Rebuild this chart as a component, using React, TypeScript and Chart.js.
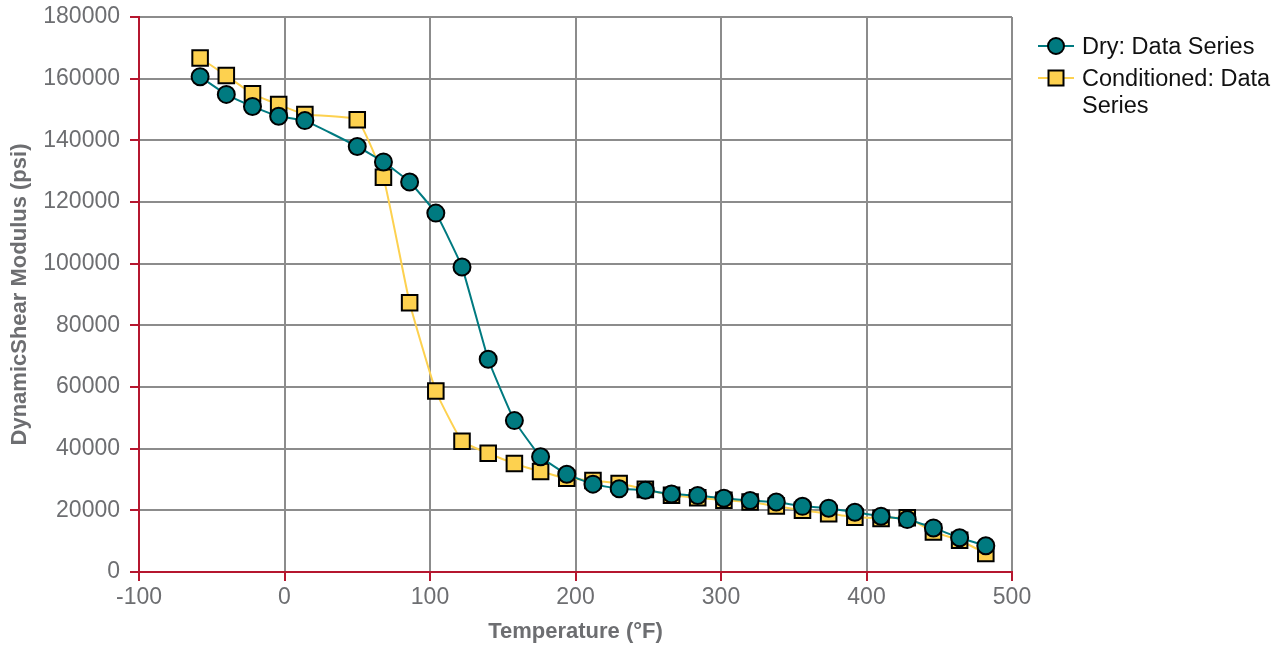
import React, { useEffect, useRef } from "react";
import { Chart, registerables } from "chart.js";

Chart.register(...registerables);

const temperatures = [-58, -40, -22, -4, 14, 50, 68, 86, 104, 122, 140, 158, 176, 194, 212, 230, 248, 266, 284, 302, 320, 338, 356, 374, 392, 410, 428, 446, 464, 482];
const dryValues = [160600, 154900, 151000, 147800, 146400, 138000, 133000, 126500, 116400, 98900, 69000, 49100, 37400, 31700, 28500, 27000, 26500, 25300, 24800, 23900, 23200, 22700, 21300, 20700, 19400, 18100, 17000, 14300, 11100, 8500];
const conditionedValues = [166700, 161000, 155100, 151600, 148400, 146700, 128000, 87300, 58700, 42400, 38500, 35200, 32600, 30400, 29700, 28700, 26800, 24900, 24100, 23300, 22700, 21400, 20000, 18900, 17800, 17400, 17600, 13000, 10300, 6000];
const seriesNames = ["Dry: Data Series", "Conditioned: Data Series"];
const xTitle = "Temperature (°F)";
const yTitle = "DynamicShear Modulus (psi)";

const TEAL = "#007a80";
const YELLOW = "#fdd14f";
const RED = "#b5172f";
const GRID = "#8c8c8c";
const LABEL = "#6d6e71";
const FONT = "'Liberation Sans', Arial, sans-serif";

export default function App() {
  const ref = useRef<HTMLCanvasElement | null>(null);

  useEffect(() => {
    if (!ref.current) return;
    const toPts = (vals: number[]) => temperatures.map((t, i) => ({ x: t, y: vals[i] }));
    const chart = new Chart(ref.current, {
      type: "line",
      data: {
        datasets: [
          {
            label: seriesNames[0],
            data: toPts(dryValues),
            borderColor: TEAL,
            backgroundColor: TEAL,
            borderWidth: 2,
            pointStyle: "circle",
            pointRadius: 8.5,
            pointBorderColor: "#000",
            pointBackgroundColor: TEAL,
            pointBorderWidth: 2,
            tension: 0.12,
          },
          {
            label: seriesNames[1],
            data: toPts(conditionedValues),
            borderColor: YELLOW,
            backgroundColor: YELLOW,
            borderWidth: 2,
            pointStyle: "rect",
            pointRadius: 11,
            pointBorderColor: "#000",
            pointBackgroundColor: YELLOW,
            pointBorderWidth: 2,
            tension: 0.12,
          },
        ],
      },
      options: {
        animation: false,
        responsive: false,
        maintainAspectRatio: false,
        layout: { padding: { top: 17, right: 274, left: 0, bottom: 0 } },
        plugins: { legend: { display: false }, tooltip: { enabled: false } },
        font: { family: FONT },
        scales: {
          x: {
            type: "linear",
            min: -100,
            max: 500,
            afterFit: (s: any) => { s.height = 76; },
            ticks: { stepSize: 100, color: LABEL, padding: 3, font: { family: FONT, size: 23 } },
            grid: { color: GRID, lineWidth: 2, tickColor: RED, tickLength: 9, tickWidth: 2 },
            border: { color: RED, width: 2 },
            title: { display: true, text: xTitle, color: LABEL, padding: { top: 0, bottom: 3 }, font: { family: FONT, size: 22, weight: "bold" } },
          },
          y: {
            type: "linear",
            min: 0,
            max: 180000,
            afterFit: (s: any) => { s.width = 139; s.paddingTop = 0; s.paddingBottom = 0; },
            ticks: { stepSize: 20000, color: LABEL, padding: 10, font: { family: FONT, size: 23 }, callback: (v: any) => String(v) },
            grid: { color: GRID, lineWidth: 2, tickColor: RED, tickLength: 9, tickWidth: 2 },
            border: { color: RED, width: 2 },
            title: { display: true, text: yTitle, color: LABEL, padding: { top: 7, bottom: 0 }, font: { family: FONT, size: 22, weight: "bold" } },
          },
        },
      },
    });
    return () => chart.destroy();
  }, []);

  const markerFor = (i: number) =>
    i === 0 ? (
      <svg width="36" height="27">
        <line x1="0" y1="13" x2="36" y2="13" stroke={TEAL} strokeWidth="2" />
        <circle cx="18" cy="13" r="8" fill={TEAL} stroke="#000" strokeWidth="2" />
      </svg>
    ) : (
      <svg width="36" height="27">
        <line x1="0" y1="13" x2="36" y2="13" stroke={YELLOW} strokeWidth="2" />
        <rect x="10.5" y="5.5" width="15" height="15" fill={YELLOW} stroke="#000" strokeWidth="2" />
      </svg>
    );

  return (
    <div style={{ position: "absolute", left: 0, top: 0, width: 1286, height: 648 }}>
      <canvas ref={ref} width={1286} height={648} style={{ position: "absolute", left: 0, top: 0 }} />
      <div style={{ position: "absolute", left: 1038, top: 33, fontFamily: FONT, fontSize: 23.5, lineHeight: "27px", color: "#111" }}>
        {seriesNames.map((name, i) => (
          <div key={name} style={{ display: "flex", alignItems: "flex-start", marginBottom: 5 }}>
            {markerFor(i)}
            <div style={{ width: 200, marginLeft: 8 }}>{name}</div>
          </div>
        ))}
      </div>
    </div>
  );
}
